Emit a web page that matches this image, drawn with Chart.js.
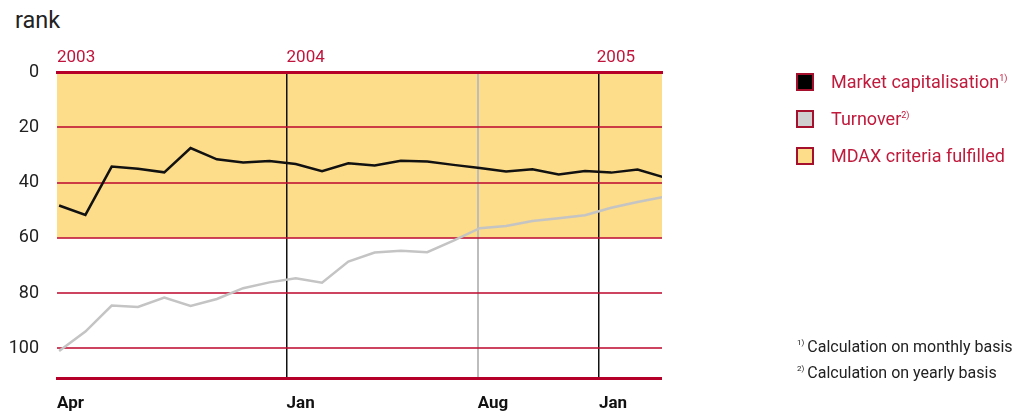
<!DOCTYPE html>
<html>
    <head>
        <meta charset="utf-8">
        <title>MDAX rank</title>

        <!-- ChartJS : https://www.chartjs.org -->
        <script src="https://cdn.jsdelivr.net/npm/chart.js@4.4.1/dist/chart.umd.min.js"></script>

        <style>
            html, body { margin: 0; padding: 0; background: #fff; }
            body { width: 1030px; height: 414px; position: relative; overflow: hidden; font-family: Roboto, sans-serif; }
            #wrap { position: absolute; left: 0; top: 0; width: 1030px; height: 414px; }
            .rank { position: absolute; left: 15px; top: 6px; font-size: 23.5px; color: #222; }
            .legend { position: absolute; left: 796px; top: 72px; }
            .legend .item { position: relative; height: 37px; }
            .legend .box { position: absolute; left: 0; top: 1px; width: 14px; height: 14px; border: 2.5px solid #a5102c; }
            .legend .text { position: absolute; left: 35px; top: -1px; font-size: 18px; color: #c01a3c; white-space: nowrap; }
            sup { font-size: 9px; vertical-align: 7px; line-height: 0; }
            .notes { position: absolute; left: 797px; top: 334px; font-size: 16px; color: #222; line-height: 26px; }
            .notes sup { font-size: 8px; vertical-align: 7px; margin-right: 3px; }
        </style>
    </head>
    <body>
        <div class="rank">rank</div>
        <div id="wrap"><canvas id="graph1"></canvas></div>

        <div class="legend">
            <div class="item"><span class="box" style="background:#000"></span><span class="text">Market capitalisation<sup>1)</sup></span></div>
            <div class="item"><span class="box" style="background:#cfcfcf"></span><span class="text">Turnover<sup>2)</sup></span></div>
            <div class="item"><span class="box" style="background:#fddc8a"></span><span class="text">MDAX criteria fulfilled</span></div>
        </div>

        <div class="notes">
            <div><sup>1)</sup>Calculation on monthly basis</div>
            <div><sup>2)</sup>Calculation on yearly basis</div>
        </div>

        <script>
            // months from Apr 2003 to Mar 2005, one point each
            const months = ['Apr 03','May 03','Jun 03','Jul 03','Aug 03','Sep 03','Oct 03','Nov 03','Dec 03',
                            'Jan 04','Feb 04','Mar 04','Apr 04','May 04','Jun 04','Jul 04','Aug 04','Sep 04',
                            'Oct 04','Nov 04','Dec 04','Jan 05','Feb 05','Mar 05'];
            const marketCap = [48.3, 51.7, 34.2, 35.0, 36.3, 27.5, 31.6, 32.7, 32.2, 33.3, 35.9, 33.0,
                               33.8, 32.1, 32.4, 33.6, 34.7, 36.0, 35.2, 37.1, 35.8, 36.4, 35.3, 38.1];
            const turnover = [100.9, 93.9, 84.5, 85.0, 81.6, 84.6, 82.1, 78.2, 76.1, 74.6, 76.2, 68.6,
                              65.3, 64.7, 65.2, 61.0, 56.5, 55.7, 53.9, 52.9, 51.8, 49.1, 47.0, 45.2];
            const mdaxLimit = 60;

            // axis markers (in month units from Apr 2003)
            const monthTicks = [-0.08, 8.65, 15.92, 20.53];
            const monthLabels = ['Apr', 'Jan', 'Aug', 'Jan'];
            const yearTicks = [-0.08, 8.65, 20.45];
            const yearLabels = ['2003', '2004', '2005'];
            const rankTicks = [0, 20, 40, 60, 80, 100];

            const xMin = -0.08, xMax = 22.93;
            const RED = '#b5002a';

            const toPoints = arr => arr.map((v, i) => ({x: i, y: v}));

            new Chart('graph1', {
                type: 'line',
                data: {
                    datasets: [
                        { label: 'Market capitalisation', data: toPoints(marketCap), borderColor: '#111', borderWidth: 2.5, order: 1 },
                        { label: 'Turnover', data: toPoints(turnover), borderColor: '#c4c4c4', borderWidth: 2.5, order: 2 },
                        { label: 'MDAX criteria fulfilled', data: [{x: xMin, y: mdaxLimit}, {x: xMax, y: mdaxLimit}],
                          borderWidth: 0, backgroundColor: '#fddc8a', fill: {value: 0}, order: 3 },
                    ]
                },
                options: {
                    responsive: true,
                    maintainAspectRatio: false,
                    animation: false,
                    layout: { padding: { left: 0, right: 368, top: 0, bottom: 0 } },
                    elements: { point: { radius: 0 }, line: { tension: 0 } },
                    datasets: { line: { clip: 0 } },
                    plugins: {
                        legend: { display: false },
                        tooltip: { enabled: false },
                        filler: { drawTime: 'beforeDraw' }
                    },
                    scales: {
                        x: {
                            type: 'linear', position: 'bottom', min: xMin, max: xMax,
                            afterBuildTicks: s => { s.ticks = monthTicks.map(v => ({value: v})); },
                            afterFit: s => { s.height = 36; },
                            border: { color: RED, width: 3 },
                            grid: {
                                drawTicks: false,
                                color: c => ['rgba(0,0,0,0)', '#111', '#bdbdbd', '#111'][c.index],
                                lineWidth: c => [0, 1.5, 2, 1.5][c.index]
                            },
                            ticks: {
                                align: 'start', padding: 16, autoSkip: false, maxRotation: 0,
                                color: '#111', font: { family: 'Roboto', size: 17, weight: 'bold' },
                                callback: (v, i) => monthLabels[i]
                            }
                        },
                        x2: {
                            type: 'linear', position: 'top', min: xMin, max: xMax,
                            afterBuildTicks: s => { s.ticks = yearTicks.map(v => ({value: v})); },
                            afterFit: s => { s.height = 72; },
                            border: { color: RED, width: 3 },
                            grid: { display: false, drawTicks: false },
                            ticks: {
                                align: 'start', padding: 4, autoSkip: false, maxRotation: 0,
                                color: '#c0143c', font: { family: 'Roboto', size: 17 },
                                callback: (v, i) => yearLabels[i]
                            }
                        },
                        y: {
                            type: 'linear', reverse: true, min: 0, max: 110.7,
                            afterBuildTicks: s => { s.ticks = rankTicks.map(v => ({value: v})); },
                            afterFit: s => { s.width = 57; },
                            border: { display: false },
                            grid: {
                                drawTicks: false,
                                color: c => c.index === 0 ? 'rgba(0,0,0,0)' : 'rgba(190,15,50,0.78)',
                                lineWidth: 2
                            },
                            ticks: {
                                padding: 18, color: '#222', font: { family: 'Roboto', size: 18 }
                            }
                        }
                    }
                }
            });
        </script>
    </body>
</html>
